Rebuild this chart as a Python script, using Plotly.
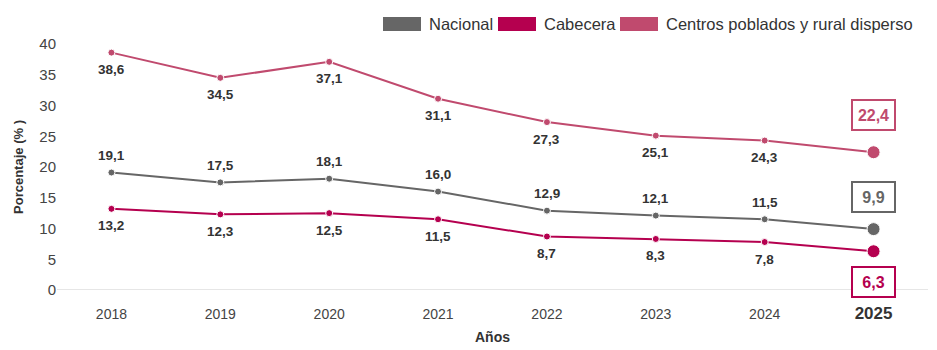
import plotly.graph_objects as go

years = ["2018", "2019", "2020", "2021", "2022", "2023", "2024", "2025"]
nacional = [19.1, 17.5, 18.1, 16.0, 12.9, 12.1, 11.5, 9.9]
cabecera = [13.2, 12.3, 12.5, 11.5, 8.7, 8.3, 7.8, 6.3]
centros = [38.6, 34.5, 37.1, 31.1, 27.3, 25.1, 24.3, 22.4]
series_names = ["Nacional", "Cabecera", "Centros poblados y rural disperso"]
y_ticks = [0, 5, 10, 15, 20, 25, 30, 35, 40]

colors = ["#666666", "#b5004f", "#c04a6e"]
series = [nacional, cabecera, centros]
label_pos = [-1, 1, 1]  # -1 above, 1 below (for regular points)
last_pos = [-1, 1, -1]

fig = go.Figure()
annotations = []
for vals, col, pos, lpos in zip(series, colors, label_pos, last_pos):
    n = len(vals)
    fig.add_trace(go.Scatter(
        x=years, y=vals, mode="lines+markers",
        line=dict(color=col, width=2),
        marker=dict(color=col, size=[7] * (n - 1) + [13], opacity=1),
        showlegend=False, hoverinfo="skip"))
    for i, v in enumerate(vals):
        txt = f"{v:.1f}".replace(".", ",")
        if i < n - 1:
            annotations.append(dict(
                x=i, y=v, xref="x", yref="y", text=f"<b>{txt}</b>",
                showarrow=False, yshift=-17 * pos,
                font=dict(family="Arial, Liberation Sans", size=13.5, color="#333333")))
        else:
            annotations.append(dict(
                x=i, y=v, xref="x", yref="y", text=f"<b>{txt}</b>",
                showarrow=False, yshift=(37 if v > 15 else 32) if lpos == -1 else -31,
                font=dict(family="Arial, Liberation Sans", size=16, color=col),
                bordercolor=col, borderwidth=2, borderpad=4, bgcolor="white",
                width=33, height=20))

# legend (manual swatches)
shapes = []
leg_x = [383, 498, 620]
for name, col, lx in zip(series_names, colors, leg_x):
    shapes.append(dict(type="rect", xref="paper", yref="paper",
                       x0=(lx - 57) / 871, x1=(lx + 38 - 57) / 871,
                       y0=(350 - 60 - 31) / 246, y1=(350 - 60 - 17) / 246,
                       fillcolor=col, line=dict(width=0)))
    annotations.append(dict(xref="paper", yref="paper",
                            x=(lx + 44 - 57) / 871, y=(350 - 60 - 24) / 246,
                            xanchor="left", yanchor="middle", showarrow=False,
                            text=name,
                            font=dict(family="Arial, Liberation Sans", size=16.5, color="#333333")))

shapes.append(dict(type="line", xref="paper", yref="y", x0=0, x1=1, y0=0, y1=0,
                   line=dict(color="#cccccc", width=1)))

ticktext = years[:-1] + ["<b><span style='font-size:17px;fill:#333333'>2025</span></b>"]

fig.update_layout(
    width=937, height=350,
    margin=dict(l=57, r=9, t=44, b=60, autoexpand=False),
    plot_bgcolor="white", paper_bgcolor="white",
    font=dict(family="Arial, Liberation Sans", color="#444444"),
    xaxis=dict(type="category", tickvals=years, ticktext=ticktext,
               range=[-0.5, len(years) - 0.5], tickangle=0, automargin=False,
               ticks="outside", ticklen=11, tickcolor="rgba(0,0,0,0)",
               showgrid=False, zeroline=False, showline=False,
               tickfont=dict(size=14, color="#444444"),
               title=dict(text="<b>Años</b>", font=dict(size=14, color="#333333"), standoff=10)),
    yaxis=dict(range=[0, 40], tickvals=y_ticks, showgrid=False, zeroline=False,
               showline=False, tickfont=dict(size=15, color="#444444"), automargin=False,
               title=dict(text="<b>Porcentaje (% )</b>", font=dict(size=13, color="#333333"),
                          standoff=12)),
    annotations=annotations, shapes=shapes,
)

fig.write_html("out.html")
